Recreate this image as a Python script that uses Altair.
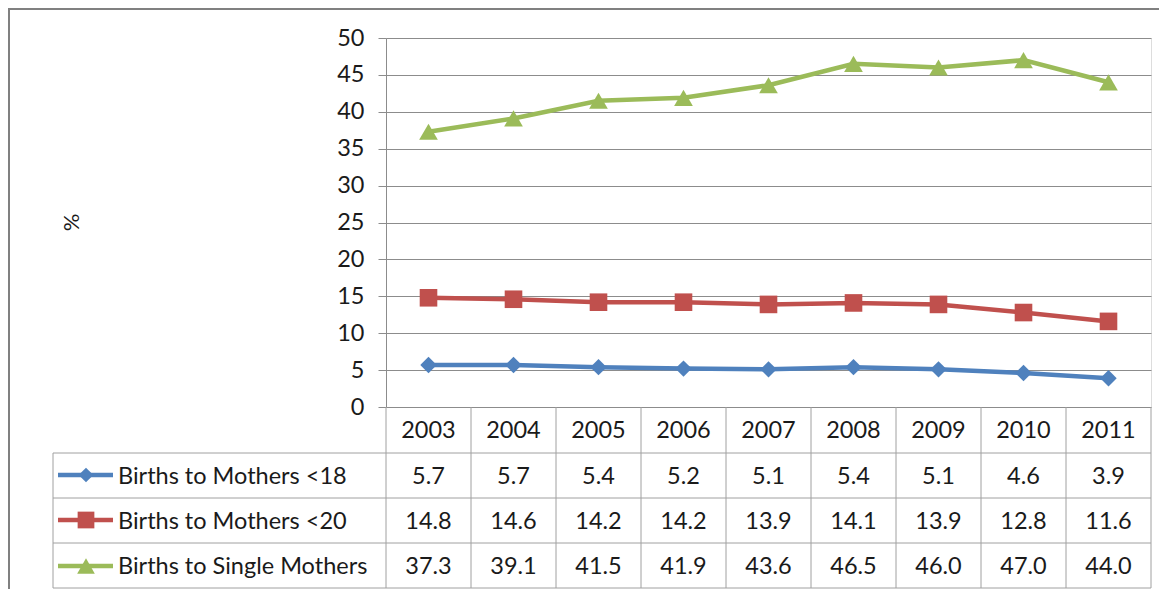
import altair as alt
import pandas as pd

years = ["2003", "2004", "2005", "2006", "2007", "2008", "2009", "2010", "2011"]
series = ["Births to Mothers <18", "Births to Mothers <20", "Births to Single Mothers"]
under18 = [5.7, 5.7, 5.4, 5.2, 5.1, 5.4, 5.1, 4.6, 3.9]
under20 = [14.8, 14.6, 14.2, 14.2, 13.9, 14.1, 13.9, 12.8, 11.6]
single = [37.3, 39.1, 41.5, 41.9, 43.6, 46.5, 46.0, 47.0, 44.0]
y_ticks = [0, 5, 10, 15, 20, 25, 30, 35, 40, 45, 50]

colors = ["#4F81BD", "#C0504D", "#9BBB59"]
shapes = ["diamond", "square", "triangle-up"]
sizes = [270, 350, 390]

rows = []
for s, vals in zip(series, [under18, under20, single]):
    for y, v in zip(years, vals):
        rows.append({"year": y, "series": s, "value": v})
df = pd.DataFrame(rows)
df_years = pd.DataFrame({"year": years})
df_series = pd.DataFrame({"series": series})

FONT = "Lato"
FS = 23.5
TXT = "#1a1a1a"
GRID = "#8c8c8c"
LINE = "#a0a0a0"
W, H = 765, 369
row_y = [439, 484, 529]
leg_y = [437, 482, 528]
header_y = 393
h_lines = [415, 460, 505, 550]
leg_left = -333

xscale = alt.Scale(type="band", domain=years, paddingInner=0, paddingOuter=0)
yscale = alt.Scale(domain=[0, 50], nice=False)
cscale = alt.Scale(domain=series, range=colors)
shscale = alt.Scale(domain=series, range=shapes)
szscale = alt.Scale(domain=series, range=sizes)

yaxis = alt.Axis(
    values=y_ticks, title="%", titleFont=FONT, titleFontSize=22,
    titleFontWeight="normal", titleColor=TXT, titleX=-303, titleY=184,
    labelFont=FONT, labelFontSize=FS, labelColor=TXT, labelPadding=14,
    labelOverlap=False, labelBound=False,
    tickSize=8, tickColor=GRID, domainColor=GRID, gridColor=GRID,
    gridWidth=1, grid=True)

xc = alt.X("year:O", scale=xscale, axis=None, bandPosition=0.5)
yc = alt.Y("value:Q", scale=yscale, axis=yaxis)

lines = alt.Chart(df).mark_line(strokeWidth=4.5).encode(
    x=xc, y=yc,
    color=alt.Color("series:N", scale=cscale, legend=None),
)

points = alt.Chart(df).mark_point(filled=True, opacity=1).encode(
    x=xc, y=yc,
    color=alt.Color("series:N", scale=cscale, legend=None),
    shape=alt.Shape("series:N", scale=shscale, legend=None),
    size=alt.Size("series:N", scale=szscale, legend=None),
)

header = alt.Chart(df_years).mark_text(font=FONT, fontSize=FS, color=TXT, baseline="middle").encode(
    x=xc, y=alt.value(header_y), text="year:N")

layers = [lines, points, header]

for i, s in enumerate(series):
    layers.append(
        alt.Chart(df).transform_filter(alt.datum.series == s).mark_text(
            font=FONT, fontSize=FS, color=TXT, baseline="middle").encode(
            x=xc, y=alt.value(row_y[i]), text=alt.Text("value:Q", format=".1f")))
    sub = df_series[df_series.series == s]
    layers.append(
        alt.Chart(sub).mark_text(font=FONT, fontSize=FS, color=TXT, align="left", baseline="middle").encode(
            x=alt.value(-268), y=alt.value(row_y[i]), text="series:N"))
    layers.append(
        alt.Chart(sub).mark_rule(strokeWidth=4.5, color=colors[i]).encode(
            x=alt.value(-328), x2=alt.value(-273), y=alt.value(leg_y[i])))
    layers.append(
        alt.Chart(sub).mark_point(filled=True, opacity=1, shape=shapes[i], size=sizes[i] * 0.8,
                                  color=colors[i]).encode(
            x=alt.value(-300), y=alt.value(leg_y[i])))

# table grid lines
for j, hy in enumerate(h_lines):
    layers.append(alt.Chart(df_years.head(1)).mark_rule(color=LINE, strokeWidth=1).encode(
        x=alt.value(leg_left), x2=alt.value(W), y=alt.value(hy)))

layers.append(alt.Chart(df_years).mark_rule(color=LINE, strokeWidth=1).encode(
    x=alt.X("year:O", scale=xscale, axis=None, bandPosition=0),
    y=alt.value(H), y2=alt.value(h_lines[-1])))
layers.append(alt.Chart(df_years.head(1)).mark_rule(color=LINE, strokeWidth=1).encode(
    x=alt.value(W), y=alt.value(H), y2=alt.value(h_lines[-1])))
layers.append(alt.Chart(df_years.head(1)).mark_rule(color=LINE, strokeWidth=1).encode(
    x=alt.value(leg_left), y=alt.value(h_lines[0]), y2=alt.value(h_lines[-1])))

# outer chart border
layers.append(alt.Chart(df_years.head(1)).mark_rect(fill=None, fillOpacity=0, stroke="#808080", strokeWidth=2).encode(
    x=alt.value(-377), x2=alt.value(900), y=alt.value(-29), y2=alt.value(700)))

chart = alt.layer(*layers).properties(
    width=W, height=H,
    padding={"left": 378, "top": 30, "right": 8, "bottom": 182},
    autosize=alt.AutoSizeParams(type="none"),
).configure_view(strokeWidth=0).configure(background="white")

chart.save("out.html", embed_options={"renderer": "svg", "actions": False})
